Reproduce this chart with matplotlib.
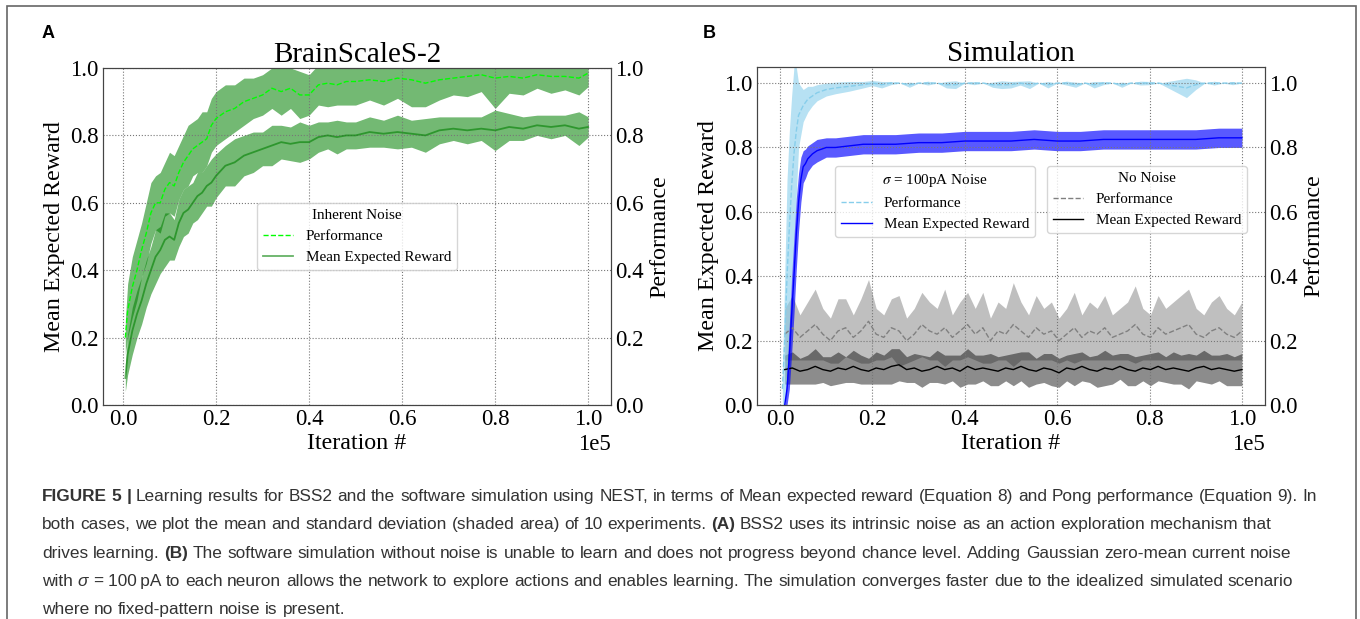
import numpy as np
import matplotlib
matplotlib.use('Agg')
import matplotlib.pyplot as plt
from matplotlib import font_manager
from matplotlib.patches import Rectangle
from matplotlib.ticker import MultipleLocator, FormatStrFormatter

# ---- Panel A: BrainScaleS-2 (x in units of 1e5 iterations) ----
x_bss = [0.005, 0.01, 0.02, 0.03, 0.04, 0.05, 0.06, 0.07, 0.08, 0.09, 0.10, 0.11, 0.12, 0.13,
         0.14, 0.15, 0.16, 0.17, 0.18, 0.19, 0.20, 0.22, 0.24, 0.26, 0.28, 0.30, 0.32, 0.34,
         0.36, 0.38, 0.40, 0.42, 0.44, 0.46, 0.48, 0.50, 0.53, 0.56, 0.59, 0.62, 0.65, 0.68,
         0.71, 0.74, 0.77, 0.80, 0.83, 0.86, 0.89, 0.92, 0.95, 0.98, 1.0]
bss_reward = [0.08, 0.15, 0.22, 0.27, 0.31, 0.36, 0.40, 0.44, 0.46, 0.49, 0.50, 0.49, 0.54, 0.57,
              0.58, 0.60, 0.62, 0.63, 0.65, 0.66, 0.68, 0.71, 0.72, 0.74, 0.75, 0.76, 0.77, 0.78,
              0.775, 0.78, 0.78, 0.795, 0.80, 0.795, 0.80, 0.80, 0.81, 0.805, 0.81, 0.805, 0.80, 0.815,
              0.82, 0.815, 0.82, 0.815, 0.825, 0.82, 0.83, 0.825, 0.83, 0.82, 0.825]
bss_reward_std = [0.04, 0.06, 0.07, 0.07, 0.07, 0.07, 0.07, 0.08, 0.07, 0.08, 0.07, 0.06, 0.07, 0.07,
                  0.07, 0.06, 0.07, 0.06, 0.06, 0.07, 0.065, 0.06, 0.07, 0.06, 0.06, 0.05, 0.06, 0.05,
                  0.05, 0.06, 0.05, 0.045, 0.04, 0.05, 0.04, 0.04, 0.045, 0.04, 0.05, 0.04, 0.05, 0.04,
                  0.035, 0.04, 0.035, 0.06, 0.04, 0.035, 0.03, 0.035, 0.03, 0.05, 0.03]
bss_perf = [0.20, 0.28, 0.35, 0.40, 0.46, 0.51, 0.57, 0.60, 0.60, 0.64, 0.66, 0.65, 0.69, 0.72,
            0.74, 0.76, 0.77, 0.78, 0.79, 0.83, 0.85, 0.87, 0.88, 0.90, 0.91, 0.92, 0.94, 0.93,
            0.94, 0.92, 0.92, 0.95, 0.955, 0.95, 0.96, 0.96, 0.965, 0.96, 0.97, 0.965, 0.955, 0.965,
            0.97, 0.975, 0.98, 0.97, 0.975, 0.97, 0.98, 0.975, 0.975, 0.97, 0.985]
bss_perf_std = [0.05, 0.08, 0.09, 0.09, 0.08, 0.09, 0.09, 0.08, 0.09, 0.08, 0.09, 0.09, 0.08, 0.08,
                0.09, 0.08, 0.08, 0.09, 0.08, 0.08, 0.08, 0.08, 0.07, 0.07, 0.06, 0.06, 0.06, 0.07,
                0.06, 0.07, 0.06, 0.06, 0.07, 0.06, 0.07, 0.07, 0.06, 0.07, 0.06, 0.08, 0.07, 0.06,
                0.05, 0.06, 0.05, 0.09, 0.05, 0.05, 0.04, 0.05, 0.04, 0.05, 0.04]

# ---- Panel B: simulation with sigma = 100 pA noise ----
x_sim_rew = [0.01, 0.015, 0.02, 0.025, 0.03, 0.035, 0.04, 0.045, 0.05, 0.055, 0.06, 0.07, 0.08,
             0.10, 0.12, 0.15, 0.18, 0.21, 0.25, 0.30, 0.35, 0.40, 0.45, 0.50, 0.55, 0.60,
             0.65, 0.70, 0.75, 0.80, 0.85, 0.90, 0.95, 1.0]
sim_reward = [0.0, 0.05, 0.15, 0.28, 0.40, 0.53, 0.63, 0.70, 0.74, 0.75, 0.765, 0.78, 0.79,
              0.80, 0.80, 0.805, 0.81, 0.81, 0.81, 0.815, 0.815, 0.82, 0.82, 0.82, 0.825, 0.82,
              0.82, 0.825, 0.825, 0.825, 0.825, 0.825, 0.83, 0.83]
sim_reward_std = [0.0, 0.05, 0.10, 0.12, 0.12, 0.11, 0.09, 0.07, 0.05, 0.045, 0.04, 0.035, 0.035,
                  0.03, 0.03, 0.03, 0.03, 0.03, 0.03, 0.03, 0.03, 0.03, 0.03, 0.03, 0.03, 0.03,
                  0.03, 0.03, 0.03, 0.03, 0.03, 0.03, 0.03, 0.03]
x_sim_perf_early = [0.005, 0.01, 0.015, 0.02, 0.025, 0.03, 0.035, 0.04, 0.05, 0.06, 0.07, 0.08,
                    0.10, 0.12, 0.15, 0.18, 0.20]
sim_perf_early = [0.05, 0.20, 0.40, 0.55, 0.68, 0.78, 0.85, 0.90, 0.93, 0.95, 0.96, 0.97,
                  0.98, 0.985, 0.99, 0.995, 1.0]
sim_perf_early_std = [0.05, 0.20, 0.30, 0.30, 0.28, 0.27, 0.20, 0.10, 0.05, 0.04, 0.03, 0.025,
                      0.02, 0.018, 0.015, 0.01, 0.008]
sim_perf_late = [0.995, 1.0, 1.0, 0.995, 1.0, 1.0, 1.0, 0.995, 0.995, 1.0, 1.0, 1.0, 0.995, 0.995,
                 0.995, 1.0, 0.995, 1.0, 0.995, 1.0, 1.0, 0.995, 1.0, 0.995, 1.0, 1.0, 0.995, 1.0,
                 1.0, 1.0, 1.0, 0.995, 0.99, 0.985, 0.995, 1.0, 1.0, 1.0, 1.0, 1.0]
sim_perf_late_std = [0.01, 0.005, 0.0, 0.008, 0.0, 0.006, 0.0, 0.01, 0.012, 0.0, 0.005, 0.0, 0.008,
                     0.012, 0.01, 0.006, 0.012, 0.0, 0.01, 0.0, 0.006, 0.008, 0.0, 0.01, 0.005, 0.0,
                     0.008, 0.0, 0.006, 0.005, 0.0, 0.01, 0.02, 0.03, 0.015, 0.0, 0.006, 0.0, 0.005, 0.0]

# ---- Panel B: simulation without noise ----
nonoise_perf = [0.22, 0.24, 0.21, 0.23, 0.25, 0.22, 0.20, 0.23, 0.24, 0.21, 0.23, 0.26, 0.22, 0.21,
                0.24, 0.23, 0.20, 0.22, 0.25, 0.23, 0.22, 0.24, 0.21, 0.23, 0.25, 0.22, 0.24, 0.20,
                0.23, 0.22, 0.25, 0.23, 0.21, 0.24, 0.22, 0.23, 0.20, 0.22, 0.24, 0.21, 0.23, 0.22,
                0.24, 0.21, 0.22, 0.23, 0.25, 0.22, 0.21, 0.24, 0.22, 0.23, 0.24, 0.25, 0.22, 0.21,
                0.23, 0.24, 0.22, 0.21, 0.23]
nonoise_perf_std = [0.08, 0.10, 0.07, 0.09, 0.11, 0.08, 0.07, 0.10, 0.09, 0.07, 0.10, 0.13, 0.08, 0.07,
                    0.09, 0.11, 0.07, 0.08, 0.10, 0.09, 0.08, 0.12, 0.07, 0.09, 0.10, 0.08, 0.11, 0.07,
                    0.09, 0.08, 0.13, 0.09, 0.07, 0.10, 0.08, 0.09, 0.07, 0.08, 0.11, 0.07, 0.09, 0.08,
                    0.10, 0.07, 0.08, 0.09, 0.12, 0.08, 0.07, 0.10, 0.08, 0.09, 0.10, 0.11, 0.08, 0.07,
                    0.09, 0.10, 0.08, 0.07, 0.09]
nonoise_reward = [0.11, 0.115, 0.105, 0.11, 0.12, 0.11, 0.105, 0.115, 0.11, 0.12, 0.11, 0.105, 0.115,
                  0.11, 0.12, 0.125, 0.11, 0.115, 0.105, 0.11, 0.12, 0.11, 0.115, 0.105, 0.12, 0.11,
                  0.115, 0.11, 0.105, 0.115, 0.11, 0.12, 0.11, 0.105, 0.115, 0.11, 0.10, 0.115, 0.11,
                  0.12, 0.11, 0.105, 0.115, 0.11, 0.12, 0.11, 0.105, 0.115, 0.11, 0.12, 0.11, 0.115,
                  0.11, 0.105, 0.115, 0.12, 0.11, 0.115, 0.11, 0.105, 0.11]
nonoise_reward_std = [0.045, 0.05, 0.04, 0.045, 0.055, 0.04, 0.045, 0.05, 0.04, 0.05, 0.045, 0.04, 0.05,
                      0.045, 0.055, 0.05, 0.04, 0.045, 0.05, 0.04, 0.05, 0.045, 0.04, 0.05, 0.055, 0.045,
                      0.04, 0.05, 0.045, 0.04, 0.05, 0.045, 0.055, 0.04, 0.045, 0.05, 0.045, 0.04, 0.05,
                      0.045, 0.04, 0.05, 0.055, 0.045, 0.04, 0.05, 0.045, 0.04, 0.05, 0.045, 0.04, 0.05,
                      0.045, 0.055, 0.04, 0.05, 0.045, 0.04, 0.05, 0.045, 0.05]

caption_lines = [
    [("FIGURE 5 |", "bold", "normal"),
     ("Learning results for BSS2 and the software simulation using NEST, in terms of Mean expected "
      "reward (Equation 8) and Pong performance (Equation 9). In", "normal", "normal")],
    [("both cases, we plot the mean and standard deviation (shaded area) of 10 experiments.", "normal", "normal"),
     ("(A)", "bold", "normal"),
     ("BSS2 uses its intrinsic noise as an action exploration mechanism that", "normal", "normal")],
    [("drives learning.", "normal", "normal"), ("(B)", "bold", "normal"),
     ("The software simulation without noise is unable to learn and does not progress beyond chance "
      "level. Adding Gaussian zero-mean current noise", "normal", "normal")],
    [("with", "normal", "normal"), ("\u03c3", "normal", "italic"),
     ("= 100\u2009pA to each neuron allows the network to explore actions and enables learning. The "
      "simulation converges faster due to the idealized simulated scenario", "normal", "normal")],
    [("where no fixed-pattern noise is present.", "normal", "normal")],
]

plt.rcParams['font.family'] = ['Liberation Serif', 'DejaVu Serif']
plt.rcParams['mathtext.fontset'] = 'stix'

W, H = 1360, 619
fig = plt.figure(figsize=(W / 100, H / 100), dpi=100)
ax_a = fig.add_axes([103 / W, 214 / H, 508 / W, 337 / H])
ax_b = fig.add_axes([757 / W, 214 / H, 508 / W, 338 / H])

TICK = 16.5
LABEL = 17.3


def style_axes(ax, ylim, xlim, title):
    ax.set_xlim(xlim[0] * 1e5, xlim[1] * 1e5)
    ax.set_ylim(*ylim)
    ax.xaxis.set_major_locator(MultipleLocator(20000))
    ax.yaxis.set_major_locator(MultipleLocator(0.2))
    ax.yaxis.set_major_formatter(FormatStrFormatter('%.1f'))
    ax.ticklabel_format(axis='x', style='sci', scilimits=(0, 0))
    ax.xaxis.get_offset_text().set_fontsize(TICK)
    ax.grid(True, linestyle=':', color='#777777', linewidth=0.8)
    ax.set_axisbelow('line')
    ax.tick_params(length=0, labelsize=TICK, pad=3)
    ax.set_xlabel('Iteration #', fontsize=LABEL, labelpad=2)
    ax.set_ylabel('Mean Expected Reward', fontsize=LABEL, labelpad=4)
    ax.set_title(title, fontsize=21, pad=2)
    tw = ax.twinx()
    tw.set_ylim(*ylim)
    tw.yaxis.set_major_locator(MultipleLocator(0.2))
    tw.yaxis.set_major_formatter(FormatStrFormatter('%.1f'))
    tw.tick_params(length=0, labelsize=TICK, pad=3)
    tw.set_ylabel('Performance', fontsize=LABEL, labelpad=4)
    for a in (ax, tw):
        for sp in a.spines.values():
            sp.set_color('#444444')
    return tw


def band(ax, x, mean, std, color, alpha):
    x = np.asarray(x) * 1e5
    mean = np.asarray(mean)
    std = np.asarray(std)
    ax.fill_between(x, mean - std, mean + std, color=color, alpha=alpha, linewidth=0)


# Panel A
style_axes(ax_a, (0, 1.0), (-0.043, 1.049), 'BrainScaleS-2')
band(ax_a, x_bss, bss_perf, bss_perf_std, 'green', 0.55)
band(ax_a, x_bss, bss_reward, bss_reward_std, 'green', 0.55)
lp, = ax_a.plot(np.asarray(x_bss) * 1e5, bss_perf, '--', color='lime', lw=1)
lr, = ax_a.plot(np.asarray(x_bss) * 1e5, bss_reward, '-', color='green', alpha=0.6, lw=1.3)
ax_a.legend([lp, lr], ['Performance', 'Mean Expected Reward'], title='Inherent Noise',
            loc='center', fontsize=10.9, title_fontsize=10.9)

# Panel B
style_axes(ax_b, (0, 1.05), (-0.05, 1.05), 'Simulation')
x_nn = np.linspace(0.01, 1.0, len(nonoise_perf))
band(ax_b, x_nn, nonoise_perf, nonoise_perf_std, 'gray', 0.5)
band(ax_b, x_nn, nonoise_reward, nonoise_reward_std, 'black', 0.45)
gp, = ax_b.plot(x_nn * 1e5, nonoise_perf, '--', color='gray', lw=1)
gr, = ax_b.plot(x_nn * 1e5, nonoise_reward, '-', color='black', lw=1)

x_late = np.linspace(0.22, 1.0, len(sim_perf_late))
x_perf = np.concatenate([x_sim_perf_early, x_late])
perf = np.concatenate([sim_perf_early, sim_perf_late])
perf_std = np.concatenate([sim_perf_early_std, sim_perf_late_std])
band(ax_b, x_perf, perf, perf_std, 'skyblue', 0.6)
sp_, = ax_b.plot(x_perf * 1e5, perf, '--', color='skyblue', lw=1)
band(ax_b, x_sim_rew, sim_reward, sim_reward_std, 'blue', 0.65)
sr, = ax_b.plot(np.asarray(x_sim_rew) * 1e5, sim_reward, '-', color='blue', lw=1)

leg1 = ax_b.legend([sp_, sr], ['Performance', 'Mean Expected Reward'],
                   title=r'$\sigma$ = 100pA Noise', loc='upper left',
                   bbox_to_anchor=(0.154, 0.707), borderaxespad=0,
                   fontsize=10.9, title_fontsize=10.9)
ax_b.add_artist(leg1)
ax_b.legend([gp, gr], ['Performance', 'Mean Expected Reward'], title='No Noise',
            loc='upper left', bbox_to_anchor=(0.571, 0.707), borderaxespad=0,
            fontsize=10.9, title_fontsize=10.9)

# panel letters
for px, letter in [(42, 'A'), (703, 'B')]:
    fig.text(px / W, 1 - 33 / H, letter, family='Liberation Sans', weight='bold',
             fontsize=13, va='center', ha='left')

# outer frame
fig.add_artist(Rectangle((7 / W, -0.05), 1349 / W, 1.05 - 6 / H, transform=fig.transFigure,
                         fill=False, edgecolor='#666666', linewidth=1.2, clip_on=False))

# caption, drawn word by word so bold/italic runs sit inline
names = {f.name for f in font_manager.fontManager.ttflist}
cap_font = 'Liberation Sans Narrow' if 'Liberation Sans Narrow' in names else 'Liberation Sans'
renderer = fig.canvas.get_renderer()


def text_width(s, size, weight='normal', style='normal'):
    t = fig.text(0, 0, s, fontsize=size, family=cap_font, weight=weight, style=style)
    w = t.get_window_extent(renderer).width
    t.remove()
    return w


def caption_line(parts, y_px, size, draw=True):
    words = []
    for text, weight, style in parts:
        for w in text.split(' '):
            words.append((w, weight, style))
    x = 42.0
    for i, (w, weight, style) in enumerate(words):
        if draw:
            fig.text(x / W, 1 - y_px / H, w, fontsize=size, family=cap_font, weight=weight,
                     style=style, color='#333333', va='baseline', ha='left')
        x += text_width(w, size, weight, style)
        if i < len(words) - 1:
            x += text_width('a a', size, weight) - text_width('aa', size, weight)
    return x - 42.0


base = 10.0
width1 = caption_line(caption_lines[0], 0, base, draw=False)
size = base * 1280.0 / width1
for line, y in zip(caption_lines, [501, 529, 558, 586, 614]):
    caption_line(line, y, size)

fig.savefig('out.png', dpi=100)
